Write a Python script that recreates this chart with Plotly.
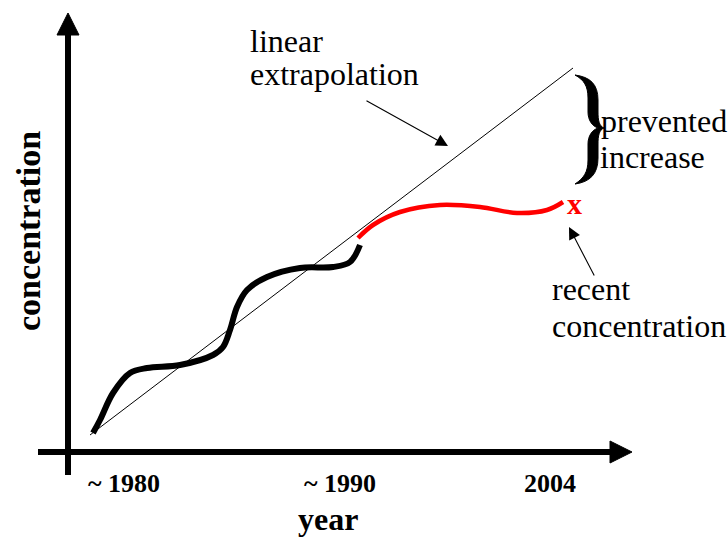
import plotly.graph_objects as go

W, H = 728, 537
SERIF = "Times New Roman, Liberation Serif, serif"

# --- schematic data (chart units: x = time axis, y = concentration) ---
black_x = [93, 100, 113, 130, 147, 180, 213, 223, 230, 237, 247, 267, 300, 333, 350, 360]
black_y = [104, 117, 144, 164, 169, 172, 182, 190, 207, 230, 247, 260, 269, 270, 275, 292]

red_x = [358, 373, 400, 440, 480, 517, 547, 563]
red_y = [299, 312, 325, 332, 330, 324, 327, 335]

linear_x = [90, 573]
linear_y = [102, 469]

tick_labels = ["~ 1980", "~ 1990", "2004"]
tick_pos = [124, 340, 550]


def Y(py):
    return H - py


def path(cmds):
    out = []
    for c in cmds:
        if isinstance(c, str):
            out.append(c)
        else:
            out.append(f"{c[0]},{Y(c[1])}")
    return " ".join(out)


fig = go.Figure()

fig.add_trace(go.Scatter(x=linear_x, y=linear_y, mode="lines",
                         line=dict(color="black", width=1), hoverinfo="skip"))
fig.add_trace(go.Scatter(x=black_x, y=black_y, mode="lines",
                         line=dict(color="black", width=6, shape="spline", smoothing=1),
                         hoverinfo="skip"))
fig.add_trace(go.Scatter(x=red_x, y=red_y, mode="lines",
                         line=dict(color="#ff0000", width=4.5, shape="spline", smoothing=1),
                         hoverinfo="skip"))

shapes = []
# axes
shapes.append(dict(type="line", x0=68, x1=68, y0=Y(475), y1=Y(33),
                   line=dict(color="black", width=6)))
shapes.append(dict(type="line", x0=38, x1=612, y0=Y(452), y1=Y(452),
                   line=dict(color="black", width=6)))
shapes.append(dict(type="path", path=path(["M", (57, 35), "L", (79, 35), "L", (68, 13), "Z"]),
                   fillcolor="black", line=dict(color="black", width=1)))
shapes.append(dict(type="path", path=path(["M", (610, 441), "L", (610, 463), "L", (632, 452), "Z"]),
                   fillcolor="black", line=dict(color="black", width=1)))
# brace
brace = ["M", (575, 75),
         "C", (590, 77), (598, 84), (598, 100),
         "L", (598, 112),
         "C", (598, 120), (599, 126), (604, 128),
         "C", (599, 130), (598, 136), (598, 144),
         "L", (598, 158),
         "C", (598, 174), (590, 182), (575, 184),
         "C", (584, 178), (588, 172), (588, 160),
         "L", (588, 144),
         "C", (588, 136), (592, 130), (598, 128),
         "C", (592, 126), (588, 120), (588, 112),
         "L", (588, 98),
         "C", (588, 86), (584, 80), (575, 75), "Z"]
shapes.append(dict(type="path", path=path(brace), fillcolor="black",
                   line=dict(color="black", width=1)))

ann = []


def text(t, x, y, size, bold=False, color="black", xanchor="left", angle=0):
    ann.append(dict(text=f"<b>{t}</b>" if bold else t, x=x, y=Y(y), xref="x", yref="y",
                    showarrow=False, xanchor=xanchor, yanchor="middle", textangle=angle,
                    font=dict(family=SERIF, size=size, color=color)))


text("linear", 248, 41, 32)
text("extrapolation", 248, 74, 32)
text("prevented", 599, 121, 32)
text("increase", 598, 157, 32)
text("recent", 550, 289, 32)
text("concentration", 550, 326, 32)
text("x", 574, 203, 30, bold=True, color="#ff0000", xanchor="center")
for lab, pos in zip(tick_labels, tick_pos):
    text(lab, pos, 483, 26, bold=True, xanchor="center")
text("year", 328, 519, 32, bold=True, xanchor="center")
text("concentration", 28, 231, 34, bold=True, xanchor="center", angle=-90)

# pointer arrows
ann.append(dict(x=448, y=Y(146), ax=365, ay=Y(100), xref="x", yref="y", axref="x", ayref="y",
                text="", showarrow=True, arrowhead=2, arrowsize=2.2, arrowwidth=1.1,
                arrowcolor="black"))
ann.append(dict(x=569, y=Y(227), ax=595, ay=Y(277), xref="x", yref="y", axref="x", ayref="y",
                text="", showarrow=True, arrowhead=2, arrowsize=2.2, arrowwidth=1.1,
                arrowcolor="black"))

fig.update_layout(
    width=W, height=H,
    margin=dict(l=0, r=0, t=0, b=0),
    paper_bgcolor="white", plot_bgcolor="white",
    showlegend=False,
    xaxis=dict(range=[0, W], visible=False, fixedrange=True),
    yaxis=dict(range=[0, H], visible=False, fixedrange=True),
    shapes=shapes, annotations=ann,
)

fig.write_html(
    "out.html",
    config={"displayModeBar": False},
    post_script="document.body.style.margin='0';document.body.style.overflow='hidden';",
)
